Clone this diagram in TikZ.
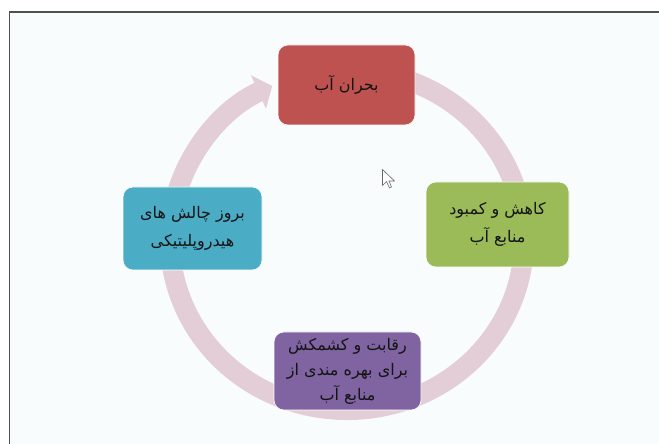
\documentclass[tikz,border=0pt]{standalone}
\usepackage{fontspec}
\usetikzlibrary{calc,arrows.meta}
\TeXXeTstate=1
\newfontfamily\arabicfont[Script=Arabic]{DejaVu Sans}
\definecolor{bgc}{HTML}{F8FCFC}
\definecolor{framec}{HTML}{505050}
\definecolor{ringc}{HTML}{E3CDD7}
\definecolor{redc}{HTML}{BE5250}
\definecolor{greenc}{HTML}{9BBB59}
\definecolor{bluec}{HTML}{4BACC6}
\definecolor{purplec}{HTML}{8064A2}
\definecolor{txtc}{HTML}{141414}
\tikzset{
  cyclebox/.style={rectangle, rounded corners=10pt, draw=white, line width=0.6pt,
    align=center, text=txtc, inner sep=0pt,
    font=\arabicfont\fontsize{16}{28}\selectfont},
  ringline/.style={draw=ringc, line width=20pt},
}
\begin{document}
\begin{tikzpicture}[x=1pt,y=1pt]
\useasboundingbox (0,0) rectangle (659,444);
\fill[white] (0,0) rectangle (659,444);
\fill[bgc] (9.5,0) rectangle (659,432);
\draw[framec, line width=1.2pt] (9.5,0) -- (9.5,432) -- (659,432);
% ring
\coordinate (c) at (347,204);
\draw[ringline, -{Triangle[width=36pt,length=15pt]}]
  ($(c)+(75:177pt and 170pt)$) arc[start angle=75, end angle=-245, x radius=177pt, y radius=170pt];
% boxes
\node[cyclebox, fill=redc, minimum width=137pt, minimum height=80pt] (top) at (346.5,359)
  {\beginR بحران آب\endR};
\node[cyclebox, fill=greenc, minimum width=143pt, minimum height=85pt] (right) at (497.5,219.5)
  {\beginR کاهش و کمبود\endR\\\beginR منابع آب\endR};
\node[cyclebox, fill=purplec, minimum width=147pt, minimum height=78pt,
  font=\arabicfont\fontsize{16}{25}\selectfont] (bottom) at (347.5,73)
  {\beginR رقابت و کشمکش\endR\\\beginR برای بهره مندی از\endR\\\beginR منابع آب\endR};
\node[cyclebox, fill=bluec, minimum width=139pt, minimum height=83pt] (left) at (192.5,215.5)
  {\beginR بروز چالش های\endR\\\beginR هیدروپلیتیکی\endR};
% mouse pointer
\coordinate (cur) at (382.5,274.5);
\filldraw[fill=white, draw=gray!80!black, line width=0.6pt, line join=round]
  (cur) -- ++(0,-16) -- ++(4,4) -- ++(3,-6.5) -- ++(2,1) -- ++(-2.5,6) -- ++(5.5,0) -- cycle;
\end{tikzpicture}
\end{document}
